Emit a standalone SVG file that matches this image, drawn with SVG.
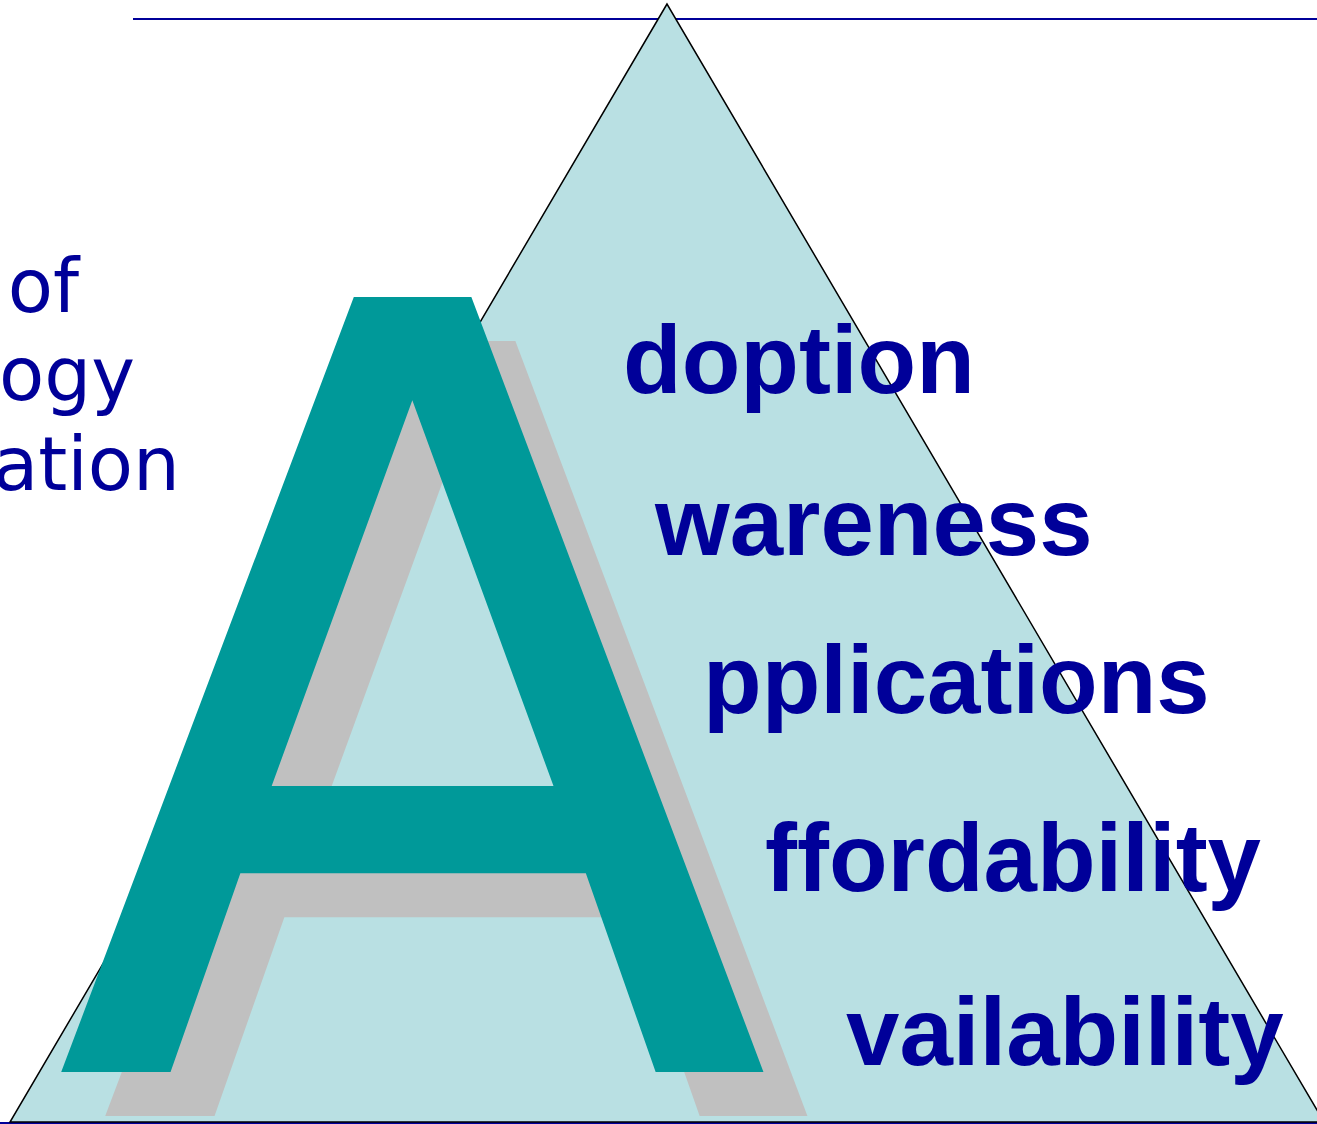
<svg xmlns="http://www.w3.org/2000/svg" width="1317" height="1124" viewBox="0 0 1317 1124">
<style>
.word{font-family:"Liberation Sans",Arial,sans-serif;font-weight:bold;font-size:96px;fill:#000099}
.side{font-family:"DejaVu Sans",Verdana,sans-serif;font-size:74px;fill:#000099;text-anchor:end}
.bigA{font-family:"DejaVu Sans",Verdana,sans-serif;font-size:1063px}
</style>
<rect x="0" y="0" width="1317" height="1124" fill="#ffffff"/>
<g id="rules">
<line x1="133" y1="19" x2="1317" y2="19" stroke="#000099" stroke-width="2"/>
<line x1="0" y1="1123" x2="1317" y2="1123" stroke="#000099" stroke-width="2"/>
</g>
<g id="triangle">
<polygon points="667,4 10,1122 1324,1122" fill="#b9e0e3" stroke="#000000" stroke-width="1.5"/>
</g>
<g id="side-text">
<text class="side" x="79" y="312">of</text>
<text class="side" x="135" y="400">ogy</text>
<text class="side" x="180" y="490">ation</text>
</g>
<g id="letter-A">
<text class="bigA" fill="#c0c0c0" transform="translate(97,1116) scale(0.989,1)" x="0" y="0">A</text>
<text class="bigA" fill="#009999" transform="translate(53,1072) scale(0.989,1)" x="0" y="0">A</text>
</g>
<g id="words">
<text class="word" x="623" y="393">doption</text>
<text class="word" x="655" y="555">wareness</text>
<text class="word" x="703" y="713">pplications</text>
<text class="word" x="765" y="891">ffordability</text>
<text class="word" x="846" y="1065">vailability</text>
</g>
</svg>
